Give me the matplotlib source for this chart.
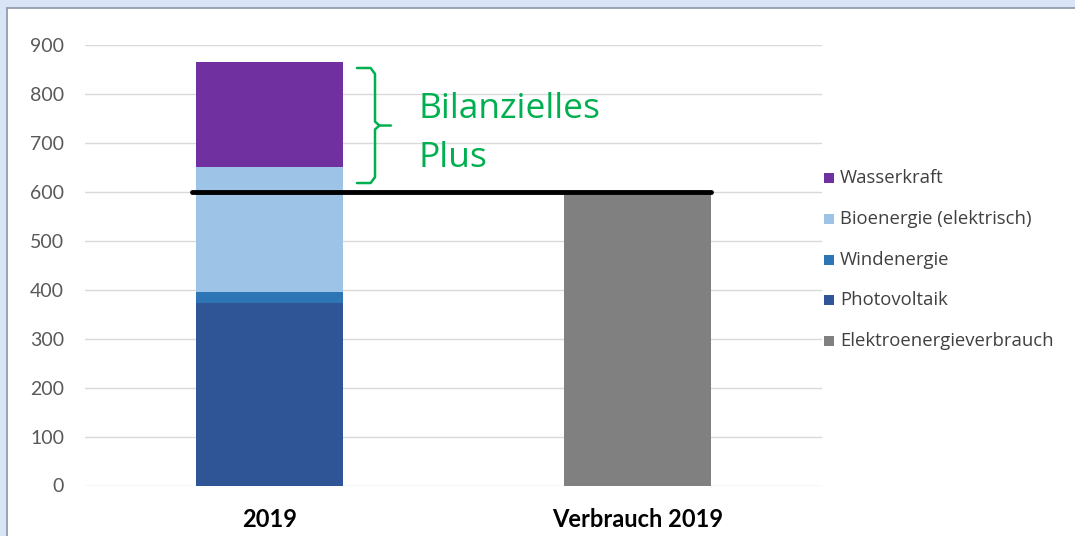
import matplotlib
matplotlib.use("Agg")
import matplotlib.pyplot as plt
from matplotlib.patches import Rectangle

categories = ["2019", "Verbrauch 2019"]
photovoltaik = [373, 0]
windenergie = [23, 0]
bioenergie = [255, 0]
wasserkraft = [215, 0]
verbrauch = [0, 600]
bilanz_linie = 600
yticks = [0, 100, 200, 300, 400, 500, 600, 700, 800, 900]

colors = {
    "Photovoltaik": "#2f5597",
    "Windenergie": "#2e75b6",
    "Bioenergie (elektrisch)": "#9dc3e6",
    "Wasserkraft": "#7030a0",
    "Elektroenergieverbrauch": "#808080",
}

plt.rcParams['font.family'] = ['Lato', 'DejaVu Sans']

W, H = 1075, 536
fig = plt.figure(figsize=(W / 100, H / 100), dpi=100)
fig.patch.set_facecolor("#d9e5f6")
frame = Rectangle((7 / W, -0.01), 1.02, 1 - 8 / H + 0.01, transform=fig.transFigure,
                  facecolor="white", edgecolor="#8a95a5", linewidth=1.2, zorder=-5)
fig.patches.append(frame)

ax = fig.add_axes([85 / W, 1 - 485.5 / H, (822 - 85) / W, (485.5 - 45) / H])
ax.set_zorder(2)
ax.set_facecolor("none")
x = list(range(len(categories)))
bw = 0.4
ax.bar(x, photovoltaik, bw, color=colors["Photovoltaik"], zorder=2)
bottom = photovoltaik[:]
ax.bar(x, windenergie, bw, bottom=bottom, color=colors["Windenergie"], zorder=2)
bottom = [a + b for a, b in zip(bottom, windenergie)]
ax.bar(x, bioenergie, bw, bottom=bottom, color=colors["Bioenergie (elektrisch)"], zorder=2)
bottom = [a + b for a, b in zip(bottom, bioenergie)]
ax.bar(x, wasserkraft, bw, bottom=bottom, color=colors["Wasserkraft"], zorder=2)
ax.bar(x, verbrauch, bw, color=colors["Elektroenergieverbrauch"], zorder=2)

ax.set_xlim(-0.5, 1.5)
ax.set_ylim(0, 900)
ax.set_yticks(yticks)
ax.set_yticklabels([str(v) for v in yticks])
ax.yaxis.grid(True, color="#d9d9d9", linewidth=1)
ax.set_axisbelow(True)
for s in ax.spines.values():
    s.set_visible(False)
ax.tick_params(axis="y", length=0, labelsize=14, labelcolor="#595959", pad=15)
ax.tick_params(axis="x", length=0, labelsize=17, pad=16)
ax.set_xticks(x)
ax.set_xticklabels(categories, fontweight="bold", color="black")

# black balance line
ax.plot([-0.21, 1.2], [bilanz_linie, bilanz_linie], color="black", linewidth=3.5,
        solid_capstyle="round", zorder=4)

# curly brace
green = "#00b050"
top_v, bot_v = 853, 618
mid_v = (top_v + bot_v) / 2
xl, xs, xt = 0.238, 0.287, 0.33
r = 0.012
ax.plot([xl, xs - r, xs, xs, xs + r, xt], [top_v, top_v, top_v - 12, mid_v + 8, mid_v, mid_v],
        color=green, linewidth=1.8, solid_capstyle="round", solid_joinstyle="round", clip_on=False)
ax.plot([xl, xs - r, xs, xs, xs + r], [bot_v, bot_v, bot_v + 12, mid_v - 8, mid_v],
        color=green, linewidth=1.8, solid_capstyle="round", solid_joinstyle="round", clip_on=False)
fig.text(418 / W, 1 - 118 / H, "Bilanzielles", color=green, fontsize=25.5, va="baseline",
         family=["Open Sans", "DejaVu Sans"])
fig.text(418 / W, 1 - 167 / H, "Plus", color=green, fontsize=25.5, va="baseline",
         family=["Open Sans", "DejaVu Sans"])

# legend
labels = ["Wasserkraft", "Bioenergie (elektrisch)", "Windenergie", "Photovoltaik", "Elektroenergieverbrauch"]
ys = [178, 219, 260, 300, 341]
for lab, yy in zip(labels, ys):
    fig.patches.append(Rectangle((824 / W, 1 - (yy + 5) / H), 10 / W, 10 / H,
                                 transform=fig.transFigure, facecolor=colors[lab], edgecolor="none"))
    fig.text(840 / W, 1 - yy / H, lab, color="#404040", fontsize=13.3, va="center",
             family=["Open Sans", "DejaVu Sans"])

fig.savefig("out.png", dpi=100, facecolor=fig.get_facecolor())
